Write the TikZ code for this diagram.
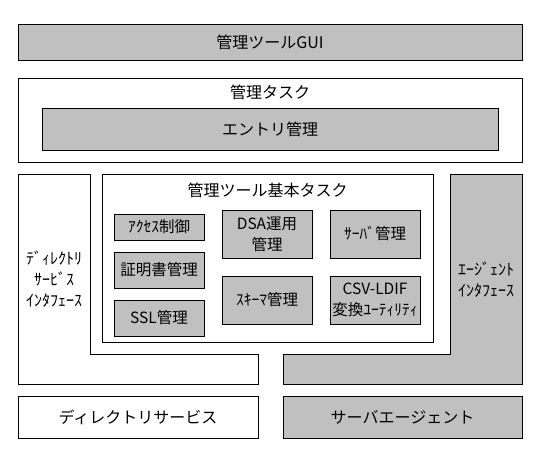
\documentclass[tikz,border=0pt]{standalone}
\usepackage{fontspec}
\setmainfont{Noto Sans CJK JP}
\usetikzlibrary{positioning}
\definecolor{boxgray}{RGB}{192,192,192}

\begin{document}
\begin{tikzpicture}[x=1pt, y=-1pt,
  whitebox/.style={
    rectangle, draw=black, fill=white, line width=0.9pt,
    inner sep=0pt, align=center, font=\fontsize{16}{21}\selectfont
  },
  graybox/.style={whitebox, fill=boxgray},
  funcbox/.style={graybox, minimum width=90pt, font=\fontsize{15.5}{21}\selectfont},
  panel/.style={draw=black, line width=0.9pt},
  heading/.style={align=center, font=\fontsize{16}{21}\selectfont}
]
\useasboundingbox (0,0) rectangle (540,450);

% ---- GUI and task layers ----
\node[graybox, minimum width=504pt, minimum height=36pt] (gui)  at (270,42)  {管理ツールGUI};
\node[whitebox, minimum width=504pt, minimum height=84pt] (task) at (270,120) {};
\node[heading] (tasktitle) at (270,92) {管理タスク};
\node[graybox, minimum width=456pt, minimum height=42pt] (entry) at (270,129) {エントリ管理};

% ---- Interface L-shapes ----
\draw[panel, fill=white]
  (18,174) -- (90,174) -- (90,354) -- (258,354) -- (258,384) -- (18,384) -- cycle;
\node[heading] (dirif) at (54,279) {ﾃﾞｨﾚｸﾄﾘ\\ｻｰﾋﾞｽ\\ｲﾝﾀﾌｪｰｽ};

\draw[panel, fill=boxgray]
  (450,174) -- (522,174) -- (522,384) -- (283,384) -- (283,354) -- (450,354) -- cycle;
\node[heading] (agentif) at (486,280) {ｴｰｼﾞｪﾝﾄ\\ｲﾝﾀﾌｪｰｽ};

% ---- Basic tool tasks ----
\node[whitebox, minimum width=331pt, minimum height=168pt] (core) at (267.5,258) {};
\node[heading] (coretitle) at (267.5,190) {管理ツール基本タスク};

\node[funcbox, minimum height=26pt] (access) at (159,227) {ｱｸｾｽ制御};
\node[funcbox, minimum height=36pt] (cert)   at (159,270) {証明書管理};
\node[funcbox, minimum height=36pt] (ssl)    at (159,318) {SSL管理};
\node[funcbox, minimum height=48pt] (dsa)    at (267,234) {DSA運用\\管理};
\node[funcbox, minimum height=48pt] (schema) at (267,300) {ｽｷｰﾏ管理};
\node[funcbox, minimum height=48pt] (server) at (375,234) {ｻｰﾊﾞ管理};
\node[funcbox, minimum height=48pt] (csv)    at (375,300) {CSV-LDIF\\変換ﾕｰﾃｨﾘﾃｨ};

% ---- Bottom layers ----
\node[whitebox, minimum width=240pt, minimum height=42pt] (dirsvc) at (138,417)   {ディレクトリサービス};
\node[graybox,  minimum width=239pt, minimum height=42pt] (agent)  at (402.5,417) {サーバエージェント};

\end{tikzpicture}
\end{document}
